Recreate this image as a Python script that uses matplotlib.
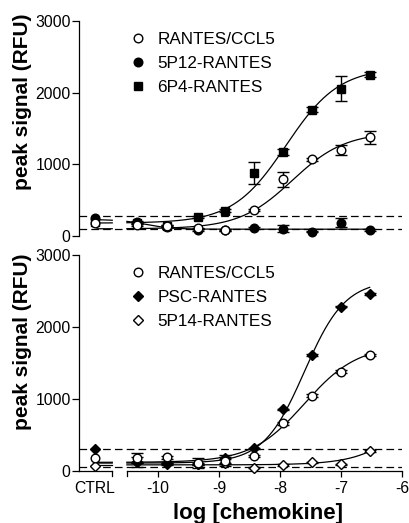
import numpy as np
import matplotlib.pyplot as plt

plt.rcParams['font.family'] = ['Liberation Sans', 'DejaVu Sans']
plt.rcParams['axes.unicode_minus'] = False
plt.rcParams['lines.scale_dashes'] = False

# log concentration of the dilution series
log_dose = [-10.35, -9.85, -9.35, -8.9, -8.43, -7.95, -7.47, -7.0, -6.53]
ctrl_x = -11.03

# top panel
rantes_a = [153, 140, 107, 84, 362, 790, 1068, 1198, 1379]
rantes_a_err = [20, 15, 10, 10, 20, 100, 25, 70, 90]
rantes_a_ctrl = 180
p12 = [200, 130, 84, 80, 111, 102, 60, 186, 84]
p12_err = [15, 10, 10, 10, 10, 45, 10, 65, 10]
p12_ctrl = 246
p4 = [185, 140, 270, 353, 882, 1175, 1765, 2058, 2253]
p4_err = [15, 10, 15, 20, 150, 40, 30, 170, 30]
p4_ctrl = 200
base_a = [280, 95]

# bottom panel
rantes_b = [185, 190, 106, 144, 208, 662, 1046, 1380, 1611]
rantes_b_err = [70, 20, 70, 80, 20, 20, 20, 20, 20]
rantes_b_ctrl = 176
psc = [130, 106, 100, 180, 315, 856, 1611, 2282, 2458]
psc_err = [70, 10, 10, 10, 10, 10, 10, 10, 10]
psc_ctrl = 301
p14 = [120, 100, 93, 106, 46, 83, 120, 93, 278]
p14_err = [10, 10, 10, 10, 10, 10, 10, 10, 10]
p14_ctrl = 74
base_b = [300, 50]

# 4PL fits: bottom, top, logEC50, hill
fit_rantes_a = [100, 1450, -7.8, 1.0]
fit_p12 = [95, 230, -10.2, -2.0]
fit_p4 = [180, 2350, -7.9, 1.0]
fit_rantes_b = [120, 1750, -7.6, 1.0]
fit_psc = [110, 2650, -7.6, 1.3]
fit_p14 = [85, 2300, -5.5, 1.0]


def logistic(x, p):
    b, t, c, h = p
    return b + (t - b) / (1 + 10 ** ((c - x) * h))


W, H = 409, 523


def rect(l, t, r, b):
    return [l / W, 1 - b / H, (r - l) / W, (b - t) / H]


fig = plt.figure(figsize=(W / 100, H / 100), dpi=100)
ax1 = fig.add_axes(rect(79, 21, 402, 236))
ax2 = fig.add_axes(rect(79, 255, 402, 471))

xmin, xmax = -11.295, -6.0
seg_l, seg_r = -10.75, -10.51
xs = np.linspace(seg_r, log_dose[-1], 300)
xc = np.linspace(-11.0, seg_l, 10)


def series(ax, vals, err, ctrl, fit, marker, face, ms):
    ax.errorbar(log_dose, vals, yerr=err, fmt='none', ecolor='black',
                elinewidth=1, capsize=4, capthick=1, clip_on=False, zorder=3)
    ax.plot(xs, logistic(xs, fit), color='black', lw=0.9, zorder=2)
    ax.plot(xc, logistic(xc, fit), color='black', lw=0.9, zorder=2)
    ln, = ax.plot(log_dose + [ctrl_x], vals + [ctrl], linestyle='none',
                  marker=marker, ms=ms, mfc=face, mec='black', mew=1,
                  clip_on=False, zorder=4)
    return ln


def setup(ax, bottom):
    ax.set_xlim(xmin, xmax)
    ax.set_ylim(0, 3000)
    ax.spines['top'].set_visible(False)
    ax.spines['right'].set_visible(False)
    ax.spines['left'].set_linewidth(0.9)
    ax.set_yticks([0, 1000, 2000, 3000])
    ax.tick_params(axis='y', direction='out', length=5, width=0.9, pad=1,
                   labelsize=11.3)
    for yv in (base_a if not bottom else base_b):
        ax.axhline(yv, color='black', lw=0.9, dashes=(5.5, 3), zorder=1)
    ax.set_ylabel('peak signal (RFU)', fontsize=15, fontweight='bold')
    if not bottom:
        ax.spines['bottom'].set_visible(False)
        ax.set_xticks([])
    else:
        ax.spines['bottom'].set_bounds(seg_r, xmax)
        ax.spines['bottom'].set_linewidth(0.9)
        ax.set_xticks([ctrl_x, -10, -9, -8, -7, -6])
        ax.set_xticklabels(['CTRL', '-10', '-9', '-8', '-7', '-6'])
        ax.tick_params(axis='x', direction='out', length=4, width=0.9,
                       pad=3, labelsize=11.3)
        ax.xaxis.get_major_ticks()[0].tick1line.set_visible(False)
        ax.plot([xmin, seg_l], [0, 0], color='black', lw=0.9, clip_on=False)
        for xb in (seg_l, seg_r):
            ax.plot([xb, xb], [0, -65], color='black', lw=0.9, clip_on=False)
        ax.set_xlabel('log [chemokine]', fontsize=16, fontweight='bold')
        ax.xaxis.set_label_coords(0.554, -0.15)


setup(ax1, False)
setup(ax2, True)
ax1.yaxis.set_label_coords(-0.147, 0.623)
ax2.yaxis.set_label_coords(-0.147, 0.60)

h_p4 = series(ax1, p4, p4_err, p4_ctrl, fit_p4, 's', 'black', 6)
h_p12 = series(ax1, p12, p12_err, p12_ctrl, fit_p12, 'o', 'black', 6.2)
h_ra = series(ax1, rantes_a, rantes_a_err, rantes_a_ctrl, fit_rantes_a, 'o', 'white', 6.2)

h_p14 = series(ax2, p14, p14_err, p14_ctrl, fit_p14, 'D', 'white', 5)
h_psc = series(ax2, psc, psc_err, psc_ctrl, fit_psc, 'D', 'black', 5)
h_rb = series(ax2, rantes_b, rantes_b_err, rantes_b_ctrl, fit_rantes_b, 'o', 'white', 6.2)

leg_kw = dict(loc='upper left', frameon=False, fontsize=12.3, handlelength=1.0,
              handletextpad=0.65, labelspacing=0.54, borderpad=0,
              borderaxespad=0, numpoints=1, bbox_transform=fig.transFigure)
ax1.legend([h_ra, h_p12, h_p4], ['RANTES/CCL5', '5P12-RANTES', '6P4-RANTES'],
           bbox_to_anchor=(129 / W, 1 - 32 / H), **leg_kw)
ax2.legend([h_rb, h_psc, h_p14], ['RANTES/CCL5', 'PSC-RANTES', '5P14-RANTES'],
           bbox_to_anchor=(129 / W, 1 - 266 / H), **leg_kw)

fig.savefig('out.png', dpi=100)
